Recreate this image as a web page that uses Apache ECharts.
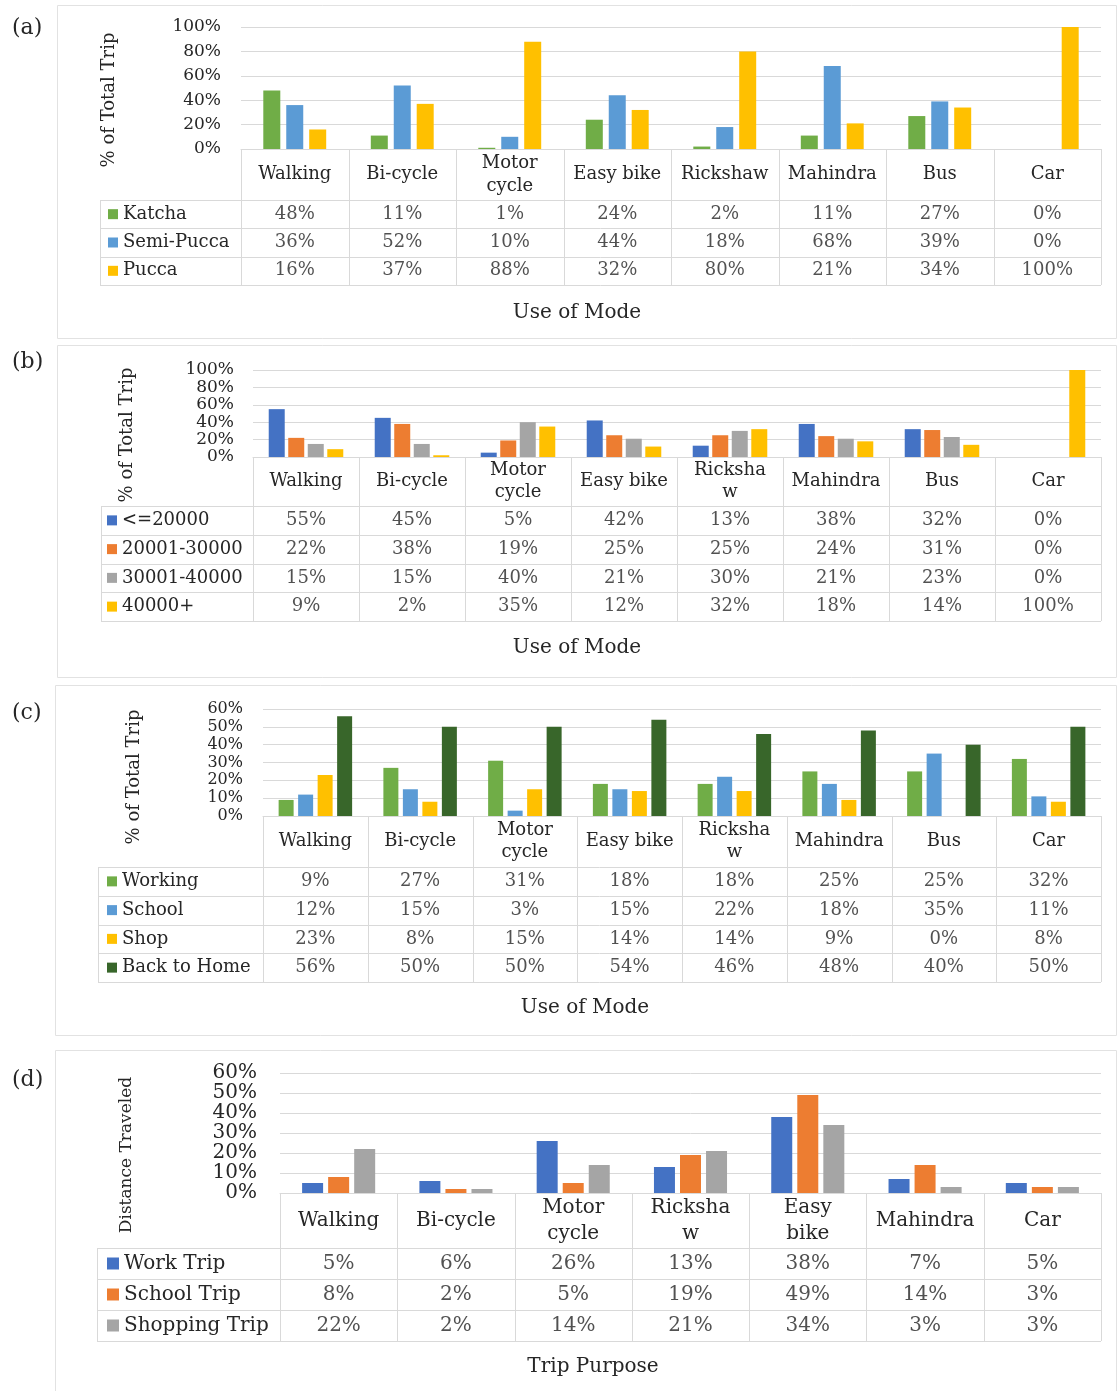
<!DOCTYPE html>
<html><head><meta charset="utf-8">
<script src="https://cdn.jsdelivr.net/npm/echarts@6/dist/echarts.min.js"></script>
<style>html,body{margin:0;padding:0;background:#fff}#c{width:1118px;height:1391px}</style>
</head><body><div id="c"></div><script>
// ---------- data ----------
const catsA = ['Walking','Bi-cycle','Motor\ncycle','Easy bike','Rickshaw','Mahindra','Bus','Car'];
const catsB = ['Walking','Bi-cycle','Motor\ncycle','Easy bike','Ricksha\nw','Mahindra','Bus','Car'];
const catsC = ['Walking','Bi-cycle','Motor\ncycle','Easy bike','Ricksha\nw','Mahindra','Bus','Car'];
const catsD = ['Walking','Bi-cycle','Motor\ncycle','Ricksha\nw','Easy\nbike','Mahindra','Car'];

const namesA = ['Katcha','Semi-Pucca','Pucca'];
const katcha    = [48,11,1,24,2,11,27,0];
const semiPucca = [36,52,10,44,18,68,39,0];
const pucca     = [16,37,88,32,80,21,34,100];

const namesB = ['<=20000','20001-30000','30001-40000','40000+'];
const inc20k  = [55,45,5,42,13,38,32,0];
const inc30k  = [22,38,19,25,25,24,31,0];
const inc40k  = [15,15,40,21,30,21,23,0];
const inc40kp = [9,2,35,12,32,18,14,100];

const namesC = ['Working','School','Shop','Back to Home'];
const working  = [9,27,31,18,18,25,25,32];
const school   = [12,15,3,15,22,18,35,11];
const shop     = [23,8,15,14,14,9,0,8];
const backHome = [56,50,50,54,46,48,40,50];

const namesD = ['Work Trip','School Trip','Shopping Trip'];
const workTrip     = [5,6,26,13,38,7,5];
const schoolTrip   = [8,2,5,19,49,14,3];
const shoppingTrip = [22,2,14,21,34,3,3];

const ticks100 = [0,20,40,60,80,100];
const ticks60  = [0,10,20,30,40,50,60];

// ---------- styling / layout ----------
const FONT = 'DejaVu Serif';
const TXT = '#262626';
const LINE = '#d9d9d9';

const panels = [
  {tag:'(a)', cats:catsA, names:namesA, data:[katcha,semiPucca,pucca],
   colors:['#70ad47','#5b9bd5','#ffc000'], ticks:ticks100, yTitle:'% of Total Trip', xTitle:'Use of Mode',
   L:{left:241,right:1101,top:27,base:149,tTop:200,rowH:28.33,legL:100,sqX:108,sq:10,
      frame:[57,5,1116,338],tagY:28,yTX:109,yTY:100,xTX:577,xTY:313,
      barW:17,gap:'35%',tickFont:17,font:18,lh:23,tickMargin:20,yTFont:18}},
  {tag:'(b)', cats:catsB, names:namesB, data:[inc20k,inc30k,inc40k,inc40kp],
   colors:['#4472c4','#ed7d31','#a5a5a5','#ffc000'], ticks:ticks100, yTitle:'% of Total Trip', xTitle:'Use of Mode',
   L:{left:253,right:1101,top:370,base:457,tTop:506,rowH:28.75,legL:101,sqX:107,sq:10,
      frame:[57,345,1116,677],tagY:362,yTX:127,yTY:435,xTX:577,xTY:648,
      barW:16,gap:'22%',tickFont:17,font:18,lh:22,tickMargin:19,yTFont:18}},
  {tag:'(c)', cats:catsC, names:namesC, data:[working,school,shop,backHome],
   colors:['#70ad47','#5b9bd5','#ffc000','#38662a'], ticks:ticks60, yTitle:'% of Total Trip', xTitle:'Use of Mode',
   L:{left:263,right:1101,top:709,base:816,tTop:867,rowH:28.75,legL:98,sqX:107,sq:10,
      frame:[55,685,1116,1035],tagY:713,yTX:134,yTY:777,xTX:585,xTY:1008,
      barW:15,gap:'30%',tickFont:16,font:18,lh:22,tickMargin:20,yTFont:18}},
  {tag:'(d)', cats:catsD, names:namesD, data:[workTrip,schoolTrip,shoppingTrip],
   colors:['#4472c4','#ed7d31','#a5a5a5'], ticks:ticks60, yTitle:'Distance Traveled', xTitle:'Trip Purpose',
   L:{left:280,right:1101,top:1073,base:1193,tTop:1248,rowH:31,legL:97,sqX:107,sq:12,
      frame:[55,1050,1116,1400],tagY:1080,yTX:127,yTY:1155,xTX:593,xTY:1367,
      barW:21,gap:'24%',tickFont:20,font:20,lh:26,tickMargin:23,yTFont:17}}
];

const grid = [], xAxis = [], yAxis = [], series = [], graphic = [];

function hLine(x1,x2,y){ y=Math.round(y)+0.5; graphic.push({type:'line',silent:true,shape:{x1,y1:y,x2,y2:y},style:{stroke:LINE,lineWidth:1}}); }
function vLine(x,y1,y2){ x=Math.round(x)+0.5; graphic.push({type:'line',silent:true,shape:{x1:x,y1,x2:x,y2},style:{stroke:LINE,lineWidth:1}}); }
function text(str,x,y,size,align,rot){
  graphic.push({type:'text',silent:true,x,y,rotation:rot||0,
    style:{text:str,x:0,y:0,fill:TXT,font:size+'px "'+FONT+'"',
      textAlign:align||'center',align:align||'center',textVerticalAlign:'middle',verticalAlign:'middle'}});
}

panels.forEach((p,i)=>{
  const L = p.L;
  const W = L.right - L.left;
  const nR = p.names.length;
  const gi = 2*i, ti = 2*i+1;
  const tBottom = L.tTop + L.rowH*nR;

  grid.push({left:L.left, top:L.top, width:W, height:L.base-L.top, outerBoundsMode:'none', containLabel:false});
  grid.push({left:L.left, top:L.tTop, width:W, height:L.rowH*nR, outerBoundsMode:'none', containLabel:false});

  xAxis.push({type:'category', gridIndex:gi, data:p.cats, boundaryGap:true,
    axisLine:{show:true, lineStyle:{color:LINE, width:1}}, axisTick:{show:false},
    axisLabel:{interval:0, margin:(L.tTop-L.base)/2, verticalAlign:'middle', align:'center',
      fontFamily:FONT, fontSize:L.font, lineHeight:L.lh, color:TXT},
    splitLine:{show:false}});
  yAxis.push({type:'value', gridIndex:gi, min:p.ticks[0], max:p.ticks[p.ticks.length-1],
    interval:p.ticks[1]-p.ticks[0],
    axisLine:{show:false}, axisTick:{show:false},
    axisLabel:{formatter:'{value}%', margin:L.tickMargin, fontFamily:FONT, fontSize:L.tickFont, color:TXT},
    splitLine:{show:true, lineStyle:{color:LINE, width:1}}});

  xAxis.push({type:'category', gridIndex:ti, data:p.cats, show:false});
  const rich = {t:{fontFamily:FONT, fontSize:L.font, color:TXT, padding:[0,0,0,5]}};
  p.colors.forEach((c,k)=>{ rich['s'+k] = {width:L.sq, height:L.sq, backgroundColor:c}; });
  yAxis.push({type:'category', gridIndex:ti, data:p.names, inverse:true,
    axisLine:{show:false}, axisTick:{show:false}, splitLine:{show:false},
    axisLabel:{interval:0, align:'left', margin:L.left-L.sqX, fontFamily:FONT, fontSize:L.font, color:TXT,
      formatter:(v,idx)=>'{s'+idx+'|}{t|'+v+'}', rich}});

  p.names.forEach((nm,k)=>{
    series.push({type:'bar', name:nm, xAxisIndex:gi, yAxisIndex:gi, data:p.data[k],
      barWidth:L.barW, barGap:L.gap, itemStyle:{color:p.colors[k]}, silent:true, animation:false});
  });

  const cells = [];
  p.data.forEach((row,k)=>row.forEach((v,j)=>cells.push([j,k,v])));
  series.push({type:'scatter', xAxisIndex:ti, yAxisIndex:ti, data:cells, symbol:'rect', symbolSize:1,
    itemStyle:{color:'rgba(0,0,0,0)'}, silent:true, animation:false,
    label:{show:true, position:'inside', formatter:(d)=>d.value[2]+'%',
      fontFamily:FONT, fontSize:L.font, color:TXT}});

  // frame
  const f = L.frame;
  graphic.push({type:'rect', silent:true, shape:{x:f[0]+0.5,y:f[1]+0.5,width:f[2]-f[0],height:f[3]-f[1]},
    style:{fill:'none', stroke:'#e2e2e2', lineWidth:1}});
  // table lines
  for(let k=0;k<=nR;k++) hLine(L.legL, L.right, L.tTop + k*L.rowH);
  vLine(L.legL, L.tTop, tBottom);
  const n = p.cats.length, cw = W/n;
  for(let j=0;j<=n;j++) vLine(L.left + j*cw, L.base, tBottom);
  // texts
  text(p.tag, 12, L.tagY, 22, 'left');
  text(p.yTitle, L.yTX, L.yTY, L.yTFont, 'center', Math.PI/2);
  text(p.xTitle, L.xTX, L.xTY, 20, 'center');
});

const chart = echarts.init(document.getElementById('c'), null, {renderer:'canvas'});
chart.setOption({
  animation:false,
  backgroundColor:'#ffffff',
  grid, xAxis, yAxis, series, graphic
});
</script></body></html>
